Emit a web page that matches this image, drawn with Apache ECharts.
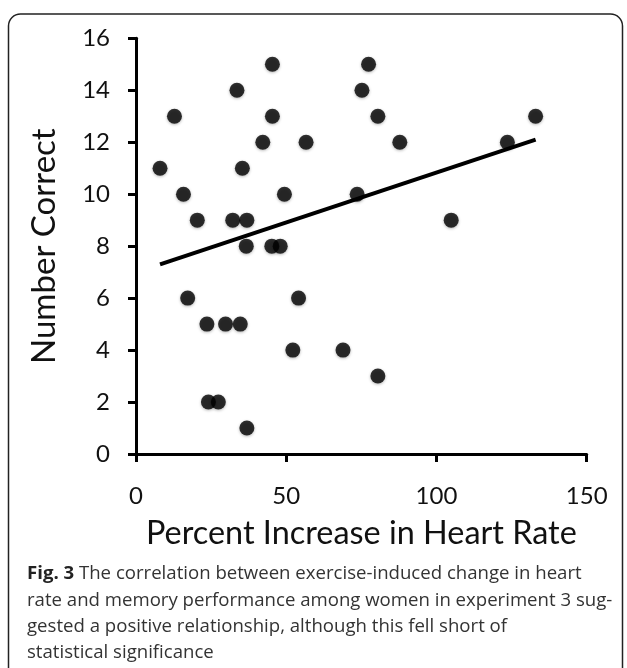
<!DOCTYPE html>
<html><head><meta charset="utf-8">
<script src="https://cdn.jsdelivr.net/npm/echarts@6/dist/echarts.min.js"></script>
<style>html,body{margin:0;padding:0;background:#fff}#c{width:627px;height:668px}</style>
</head><body><div id="c"></div>
<script>
const heartRateIncrease = [45.4,77.4,33.6,75.2,12.8,45.4,80.5,133,42.2,56.6,87.8,123.6,8,35.4,15.8,49.4,73.6,20.4,32.2,36.9,104.9,36.7,45.2,48,17.2,54.1,23.6,29.8,34.7,52.2,68.9,80.5,24.1,27.4,36.9];
const numberCorrect     = [15,15,14,14,13,13,13,13,12,12,12,12,11,11,10,10,10,9,9,9,9,8,8,8,6,6,5,5,5,4,4,3,2,2,1];
const trendX = [8, 133];
const trendY = [7.3, 12.1];
const xTickLabels = [0, 50, 100, 150];
const yTickLabels = [0, 2, 4, 6, 8, 10, 12, 14, 16];
const xTitle = 'Percent Increase in Heart Rate';
const yTitle = 'Number Correct';
const captionBold = 'Fig. 3';
const captionLines = [
  ' The correlation between exercise-induced change in heart',
  'rate and memory performance among women in experiment 3 sug-',
  'gested a positive relationship, although this fell short of',
  'statistical significance'
];

const chart = echarts.init(document.getElementById('c'), null, {renderer: 'canvas'});
const FONT = 'Lato';
const CAP_FONT = 'Open Sans';
const CAP_SIZE = 18.6;
const captionY = [574, 600.5, 627, 653];
const graphics = [{
  type: 'rect', shape: {x: 8.5, y: 14, width: 614, height: 720, r: 12},
  style: {fill: 'none', stroke: '#222', lineWidth: 1.5}, silent: true
}];
captionLines.forEach((t, i) => {
  graphics.push({
    type: 'text', x: 27, y: captionY[i],
    style: {
      text: i === 0 ? '{b|' + captionBold + '}' + t : t,
      font: CAP_SIZE + 'px "' + CAP_FONT + '"', fill: '#333',
      verticalAlign: 'middle', align: 'left',
      rich: {b: {fontWeight: 'bold', fontSize: CAP_SIZE, fontFamily: CAP_FONT, fill: '#222'}}
    }
  });
});

chart.setOption({
  animation: false,
  backgroundColor: '#fff',
  grid: {left: 136, right: 40.3, top: 38.3, bottom: 214},
  xAxis: {
    type: 'value', min: 0, max: 150, interval: 50,
    name: xTitle, nameLocation: 'middle', nameGap: 64,
    nameTextStyle: {fontFamily: FONT, fontSize: 32.4, color: '#111'},
    axisLine: {show: true, lineStyle: {color: '#000', width: 3}},
    axisTick: {show: true, inside: false, length: 8, lineStyle: {color: '#000', width: 3}},
    axisLabel: {fontFamily: FONT, fontSize: 24, color: '#111', margin: 30,
      formatter: v => xTickLabels.includes(v) ? String(v) : ''},
    splitLine: {show: false}
  },
  yAxis: {
    type: 'value', min: 0, max: 16, interval: 2,
    name: yTitle, nameLocation: 'middle', nameGap: 75,
    nameTextStyle: {fontFamily: FONT, fontSize: 33, color: '#111'},
    axisLine: {show: true, lineStyle: {color: '#000', width: 3}},
    axisTick: {show: true, inside: false, length: 8, lineStyle: {color: '#000', width: 3}},
    axisLabel: {fontFamily: FONT, fontSize: 24, color: '#111', margin: 26,
      formatter: v => yTickLabels.includes(v) ? String(v) : ''},
    splitLine: {show: false}
  },
  series: [{
    type: 'scatter',
    data: heartRateIncrease.map((x, i) => [x, numberCorrect[i]]),
    symbol: 'circle', symbolSize: 15,
    itemStyle: {color: '#000', shadowBlur: 3, shadowColor: 'rgba(0,0,0,0.35)', shadowOffsetY: 1}
  }, {
    type: 'line',
    data: trendX.map((x, i) => [x, trendY[i]]),
    symbol: 'none', lineStyle: {color: '#000', width: 4}, z: 3
  }],
  graphic: graphics
});
</script></body></html>
